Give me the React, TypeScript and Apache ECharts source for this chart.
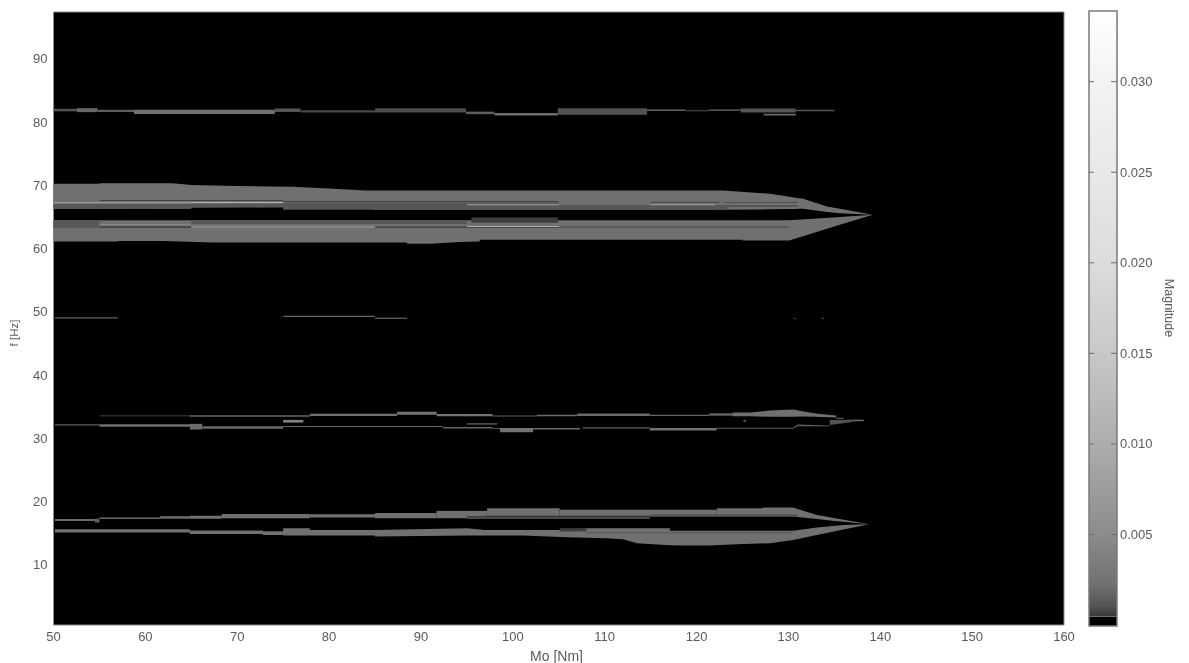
import React, { useEffect, useRef } from "react";
import * as echarts from "echarts";

// Axis ranges and ticks
const moRange = [50, 160];
const freqRange = [0.5, 97.4];
const freqTicks = [10, 20, 30, 40, 50, 60, 70, 80, 90];
const magRange = [-0.00005, 0.0339];
const magTicks = [0.005, 0.01, 0.015, 0.02, 0.025, 0.03];
const blackLevelTop = 0.00047;

// Grey scale of the colour bar: [magnitude, grey level]
const grayScale: number[][] = [
  [0.0005, 56], [0.001, 82], [0.0022, 112], [0.005, 140], [0.01, 173],
  [0.015, 200], [0.02, 220], [0.025, 232], [0.03, 243], [0.0339, 255],
];

// Ribbons: [magnitude, [[Mo, fLow, fHigh], ...]]
type Ribbon = [number, number[][]];

const band65Base: Ribbon[] = [
  [0.0022, [[50, 66.28, 70.24], [55, 66.28, 70.24], [55, 66.28, 70.32], [63, 66.28, 70.32], [65, 66.28, 70.05], [65, 66.55, 70.05], [70, 66.55, 69.9], [76, 66.55, 69.76], [80, 66.55, 69.5], [84, 66.55, 69.2], [85, 66.13, 69.18], [122.85, 66.13, 69.18], [128, 66.2, 68.66], [131, 66.3, 68.0], [131.6, 66.3, 67.87], [134.2, 65.8, 66.65], [135.6, 65.57, 66.28], [139.2, 65.34, 65.34]]],
  [0.0022, [[50, 61.11, 64.47], [57, 61.11, 64.47], [57, 61.2, 64.47], [62, 61.2, 64.47], [67.4, 60.96, 64.47], [88.5, 60.96, 64.47], [88.5, 60.75, 64.47], [91, 60.75, 64.47], [94.2, 61.06, 64.47], [96.4, 61.11, 64.47], [96.4, 61.38, 64.47], [125, 61.38, 64.47], [125, 61.27, 64.47], [130.1, 61.27, 64.47], [135.6, 63.75, 65.0], [139.2, 65.34, 65.34]]],
];

const band65Detail: Ribbon[] = [
  [0.0012, [[50, 66.28, 67.08], [75, 66.55, 67.08]]],
  [0.0012, [[75, 66.13, 67.3], [105, 66.13, 67.3]]],
  [0.0012, [[105, 66.13, 66.9], [131, 66.3, 66.9]]],
  [0.009, [[50, 67.15, 67.31], [65, 67.15, 67.31]]],
  [0.011, [[65, 67.2, 67.38], [75, 67.2, 67.38]]],
  [0.0007, [[55, 67.52, 67.68], [75, 67.52, 67.68]]],
  [0.0007, [[75, 67.36, 67.52], [105, 67.36, 67.52]]],
  [0.0007, [[115, 67.25, 67.4], [122.5, 67.25, 67.4]]],
  [0.0009, [[123, 67.2, 67.35], [131, 67.2, 67.35]]],
  [0.008, [[95, 66.84, 67.0], [105, 66.84, 67.0]]],
  [0.008, [[115, 66.84, 67.0], [122, 66.84, 67.0]]],
  [0.005, [[123.5, 66.33, 66.48], [131, 66.33, 66.48]]],
  [0.0012, [[50, 63.3, 64.47], [55, 63.3, 64.47]]],
  [0.005, [[55, 63.68, 63.84], [65, 63.68, 63.84]]],
  [0.0006, [[55, 63.3, 63.55], [65, 63.3, 63.55]]],
  [0.0012, [[65, 63.9, 64.47], [95, 63.9, 64.47]]],
  [0.006, [[65, 63.35, 63.55], [85, 63.35, 63.55]]],
  [0.0006, [[85, 63.3, 63.5], [95, 63.3, 63.5]]],
  [0.01, [[95, 63.42, 63.58], [105, 63.42, 63.58]]],
  [0.0008, [[95, 63.25, 63.42], [105, 63.25, 63.42]]],
  [0.0006, [[95.5, 64.1, 64.9], [104.9, 64.1, 64.9]]],
  [0.0011, [[105, 63.3, 63.55], [130, 63.3, 63.55]]],
];

const band82: Ribbon[] = [
  [0.001, [[50, 81.7, 82.1], [52.56, 81.7, 82.1]]],
  [0.0018, [[52.56, 81.57, 82.2], [54.8, 81.57, 82.2]]],
  [0.0015, [[54.8, 81.6, 81.95], [58.76, 81.6, 81.95]]],
  [0.0022, [[58.76, 81.26, 81.95], [74.1, 81.26, 81.95]]],
  [0.0012, [[74.1, 81.6, 82.15], [76.9, 81.6, 82.15]]],
  [0.0008, [[76.9, 81.5, 81.85], [85, 81.5, 81.85]]],
  [0.0009, [[85, 81.5, 82.2], [94.9, 81.5, 82.2]]],
  [0.0015, [[94.9, 81.26, 81.65], [98, 81.26, 81.65]]],
  [0.002, [[98, 81.04, 81.45], [104.9, 81.04, 81.45]]],
  [0.001, [[104.9, 81.15, 82.2], [114.6, 81.15, 82.2]]],
  [0.003, [[114.6, 81.8, 82.0], [118.8, 81.8, 82.0]]],
  [0.0007, [[118.8, 81.7, 81.9], [121.3, 81.7, 81.9]]],
  [0.002, [[121.3, 81.8, 82.0], [124.8, 81.8, 82.0]]],
  [0.0011, [[124.8, 81.5, 82.15], [130.8, 81.5, 82.15]]],
  [0.002, [[127.3, 81.05, 81.3], [130.8, 81.05, 81.3]]],
  [0.0012, [[130.8, 81.7, 81.95], [135, 81.7, 81.95]]],
];

const band50: Ribbon[] = [
  [0.0015, [[50.16, 48.95, 49.15], [57, 48.95, 49.15]]],
  [0.0018, [[75, 49.2, 49.37], [85, 49.2, 49.37]]],
  [0.003, [[85, 48.9, 49.05], [88.5, 48.9, 49.05]]],
  [0.0008, [[130.6, 48.85, 49.05], [130.85, 48.85, 49.05]]],
  [0.0008, [[133.6, 48.85, 49.05], [133.85, 48.85, 49.05]]],
];

const band33Upper: Ribbon[] = [
  [0.0012, [[55, 33.48, 33.6], [64.85, 33.48, 33.6]]],
  [0.0018, [[64.85, 33.42, 33.65], [77.9, 33.42, 33.65]]],
  [0.0022, [[77.9, 33.55, 33.9], [87.4, 33.55, 33.9]]],
  [0.0025, [[87.4, 33.75, 34.2], [91.7, 33.75, 34.2]]],
  [0.0025, [[91.7, 33.5, 33.85], [97.8, 33.5, 33.85]]],
  [0.0018, [[97.8, 33.45, 33.62], [102.6, 33.45, 33.62]]],
  [0.002, [[102.6, 33.5, 33.75], [107, 33.5, 33.75]]],
  [0.002, [[107, 33.55, 33.95], [114.9, 33.55, 33.95]]],
  [0.0018, [[114.9, 33.55, 33.75], [121.4, 33.55, 33.75]]],
  [0.002, [[121.4, 33.6, 33.95], [123.9, 33.6, 33.95]]],
  [0.0022, [[123.9, 33.5, 34.1], [125.8, 33.5, 34.1], [128, 33.42, 34.4], [130.5, 33.42, 34.55], [131.5, 33.45, 34.3], [133, 33.4, 33.95], [135.2, 33.3, 33.6]]],
  [0.0012, [[135.2, 33.05, 33.25], [136, 33.05, 33.25]]],
  [0.0022, [[136.4, 32.72, 32.95], [138.2, 32.72, 32.95]]],
];

const band33Lower: Ribbon[] = [
  [0.0015, [[50.16, 32.05, 32.25], [55, 32.05, 32.25]]],
  [0.0022, [[55, 31.85, 32.25], [64.85, 31.85, 32.25]]],
  [0.002, [[64.85, 31.4, 32.3], [66.2, 31.4, 32.3]]],
  [0.002, [[66.2, 31.53, 31.9], [75, 31.53, 31.9]]],
  [0.0015, [[75, 31.78, 31.96], [92.4, 31.78, 31.96]]],
  [0.004, [[75, 32.5, 32.92], [77.2, 32.5, 32.92]]],
  [0.0018, [[92.4, 31.55, 31.8], [97.8, 31.55, 31.8]]],
  [0.003, [[95, 32.2, 32.37], [98.3, 32.2, 32.37]]],
  [0.0015, [[97.8, 31.5, 31.65], [98.6, 31.5, 31.65]]],
  [0.0025, [[98.6, 30.98, 31.65], [102.2, 30.98, 31.65]]],
  [0.002, [[102.2, 31.4, 31.65], [107.3, 31.4, 31.65]]],
  [0.0015, [[107.6, 31.55, 31.75], [114.9, 31.55, 31.75]]],
  [0.0022, [[114.9, 31.25, 31.65], [122.2, 31.25, 31.65]]],
  [0.0015, [[122.2, 31.52, 31.7], [130.5, 31.52, 31.7], [131, 31.9, 32.2], [134.5, 31.9, 32.05]]],
  [0.004, [[125.1, 32.67, 32.87], [125.4, 32.67, 32.87]]],
  [0.001, [[134.5, 32.1, 32.9], [137, 32.6, 32.9]]],
];

const band17Upper: Ribbon[] = [
  [0.002, [[50.16, 16.95, 17.25], [54.5, 16.95, 17.25]]],
  [0.0015, [[54.5, 16.7, 17.3], [55, 16.7, 17.3]]],
  [0.002, [[55, 17.25, 17.5], [61.6, 17.25, 17.5]]],
  [0.002, [[61.6, 17.3, 17.7], [64.85, 17.3, 17.7]]],
  [0.0022, [[64.85, 17.3, 17.75], [68.3, 17.3, 17.75]]],
  [0.0022, [[68.3, 17.38, 18.06], [77.9, 17.38, 18.06]]],
  [0.0022, [[77.9, 17.5, 18.0], [85, 17.5, 18.0]]],
  [0.0022, [[85, 17.38, 18.2], [91.7, 17.38, 18.2]]],
  [0.0022, [[91.7, 17.38, 18.54], [95, 17.38, 18.54]]],
  [0.0022, [[95, 17.64, 18.54], [97.2, 17.64, 18.54]]],
  [0.0022, [[97.2, 17.64, 18.96], [105.1, 17.64, 18.96]]],
  [0.0022, [[105.1, 17.64, 18.7], [122.2, 17.64, 18.7]]],
  [0.0022, [[122.2, 17.64, 18.96], [127.2, 17.64, 18.96], [127.2, 17.64, 19.06], [130.5, 17.64, 19.06], [133.1, 17.25, 17.9], [134.8, 16.96, 17.46], [138.8, 16.43, 16.43]]],
  [0.006, [[95, 17.35, 17.5], [114.9, 17.35, 17.5]]],
  [0.0008, [[97, 17.75, 17.85], [115, 17.75, 17.85]]],
  [0.0011, [[115, 17.64, 18.0], [131, 17.64, 18.0]]],
];

const band15Lower: Ribbon[] = [
  [0.0022, [[50.16, 15.11, 15.64], [64.85, 15.11, 15.64], [64.85, 14.9, 15.42], [72.8, 14.9, 15.42], [72.8, 14.74, 15.3], [75, 14.74, 15.3], [75, 14.63, 15.8], [77.9, 14.63, 15.8], [77.9, 14.63, 15.53], [85, 14.63, 15.53], [85, 14.47, 15.53], [95, 14.63, 15.8], [97, 14.63, 15.53], [101.1, 14.63, 15.53], [105.9, 14.38, 15.53], [108, 14.3, 15.8], [110.2, 14.22, 15.8], [112, 14.06, 15.8], [113.5, 13.43, 15.8], [117.1, 13.12, 15.8], [117.1, 13.12, 15.38], [118.5, 13.05, 15.38], [121.4, 13.05, 15.38], [124.4, 13.27, 15.38], [128, 13.43, 15.38], [130.5, 13.95, 15.38], [133.1, 14.74, 15.9], [136, 15.6, 16.3], [138.8, 16.43, 16.43]]],
  [0.0006, [[105.1, 15.3, 15.8], [108, 15.3, 15.8]]],
  [0.0009, [[108, 15.0, 15.12], [130.5, 15.0, 15.12]]],
];

const ribbons: Ribbon[] = [
  ...band65Base, ...band65Detail, ...band82, ...band50,
  ...band33Upper, ...band33Lower, ...band17Upper, ...band15Lower,
];

function shade(mag: number): string {
  let g = grayScale[0][1];
  for (let i = 0; i < grayScale.length - 1; i++) {
    const [m0, g0] = grayScale[i];
    const [m1, g1] = grayScale[i + 1];
    if (mag >= m0 && mag <= m1) g = g0 + ((mag - m0) / (m1 - m0)) * (g1 - g0);
  }
  if (mag > grayScale[grayScale.length - 1][0]) g = 255;
  const v = Math.round(g);
  return `rgb(${v},${v},${v})`;
}

const textColor = "#5a5a5a";
const labelStyle = { color: textColor, fontFamily: "Liberation Sans", fontSize: 13 };

export default function App() {
  const ref = useRef<HTMLDivElement>(null);
  useEffect(() => {
    if (!ref.current) return;
    const chart = echarts.init(ref.current, undefined, { renderer: "svg" });
    const span = magRange[1] - blackLevelTop;
    const barStops = [
      { offset: 0, color: "#ffffff" },
      ...grayScale.slice(0, -1).reverse().map(([m]) => ({
        offset: (magRange[1] - m) / span,
        color: shade(m),
      })),
      { offset: 1, color: "#4a4a4a" },
    ];
    chart.setOption({
      animation: false,
      backgroundColor: "#ffffff",
      textStyle: { fontFamily: "Liberation Sans" },
      grid: [
        { left: 53.5, top: 12, width: 1010.5, height: 613, show: true, backgroundColor: "#000000", borderColor: "#8a8a8a", borderWidth: 1, outerBoundsMode: "none" },
        { left: 1089, top: 11, width: 28, height: 615, show: false, outerBoundsMode: "none" },
      ],
      xAxis: [
        {
          gridIndex: 0, type: "value", min: moRange[0], max: moRange[1], interval: 10,
          splitLine: { show: false }, axisLine: { show: false }, axisTick: { show: false },
          axisLabel: { ...labelStyle, margin: 5 },
        },
        { gridIndex: 1, type: "value", min: 0, max: 1, show: false },
      ],
      yAxis: [
        {
          gridIndex: 0, type: "value", min: freqRange[0], max: freqRange[1],
          splitLine: { show: false }, axisLine: { show: false },
          axisTick: { show: false, customValues: freqTicks },
          axisLabel: { ...labelStyle, margin: 6, customValues: freqTicks },
        },
        {
          gridIndex: 1, type: "value", position: "right", min: magRange[0], max: magRange[1],
          splitLine: { show: false }, axisLine: { show: false },
          axisTick: { show: false, customValues: magTicks },
          axisLabel: {
            ...labelStyle, margin: 3, customValues: magTicks,
            formatter: (v: number) => v.toFixed(3),
          },
        },
      ],
      graphic: [
        {
          type: "text", x: 1169, y: 308, rotation: -Math.PI / 2,
          style: { text: "Magnitude", fill: textColor, font: "12.5px 'Liberation Sans'", align: "center", verticalAlign: "middle" },
        },
        {
          type: "text", x: 14, y: 333, rotation: Math.PI / 2,
          style: { text: "f [Hz]", fill: textColor, font: "11.5px 'Liberation Sans'", align: "center", verticalAlign: "middle" },
        },
        {
          type: "text", x: 556.5, y: 656,
          style: { text: "Mo [Nm]", fill: textColor, font: "14px 'Liberation Sans'", align: "center", verticalAlign: "middle" },
        },
      ],
      series: [
        {
          type: "custom", xAxisIndex: 0, yAxisIndex: 0, clip: true,
          data: ribbons.map((r, i) => [r[1][0][0], r[1][0][1], i]),
          renderItem: (params: any, api: any) => {
            const [mag, pts] = ribbons[params.dataIndex];
            const lower = pts.map((p) => api.coord([p[0], p[1]]));
            const upper = pts.map((p) => api.coord([p[0], p[2]])).reverse();
            return {
              type: "polygon",
              shape: { points: [...lower, ...upper] },
              style: { fill: shade(mag), stroke: "none" },
            };
          },
        },
        {
          type: "custom", xAxisIndex: 1, yAxisIndex: 1, silent: true, z: 2,
          data: [[magRange[0], blackLevelTop], [blackLevelTop, magRange[1]]],
          renderItem: (params: any, api: any) => {
            const p0 = api.coord([0, api.value(1)]);
            const p1 = api.coord([1, api.value(0)]);
            const fill = params.dataIndex === 0
              ? "#000000"
              : new echarts.graphic.LinearGradient(0, 0, 0, 1, barStops);
            return {
              type: "rect",
              shape: { x: p0[0], y: p0[1], width: p1[0] - p0[0], height: p1[1] - p0[1] },
              style: { fill, stroke: "none" },
            };
          },
        },
        {
          type: "custom", xAxisIndex: 1, yAxisIndex: 1, silent: true, z: 3,
          data: [[magRange[0], magRange[1]]],
          renderItem: (_: any, api: any) => {
            const p0 = api.coord([0, api.value(1)]);
            const p1 = api.coord([1, api.value(0)]);
            return {
              type: "rect",
              shape: { x: p0[0], y: p0[1], width: p1[0] - p0[0], height: p1[1] - p0[1] },
              style: { fill: "none", stroke: "#7a7a7a", lineWidth: 1.5 },
            };
          },
        },
        {
          type: "custom", xAxisIndex: 1, yAxisIndex: 1, silent: true, z: 3,
          data: magTicks.map((m) => [m]),
          renderItem: (_: any, api: any) => {
            const y = api.coord([0, api.value(0)])[1];
            const left = api.coord([0, api.value(0)])[0];
            const right = api.coord([1, api.value(0)])[0];
            const line = (x1: number, x2: number) => ({
              type: "line",
              shape: { x1, y1: y, x2, y2: y },
              style: { stroke: "#6a6a6a", lineWidth: 1 },
            });
            return { type: "group", children: [line(left, left + 5), line(right - 6, right)] };
          },
        },
      ],
    });
    return () => chart.dispose();
  }, []);
  return (
    <div
      ref={ref}
      style={{ position: "absolute", left: 0, top: 0, width: 1189, height: 663, filter: "blur(0.6px)" }}
    />
  );
}
